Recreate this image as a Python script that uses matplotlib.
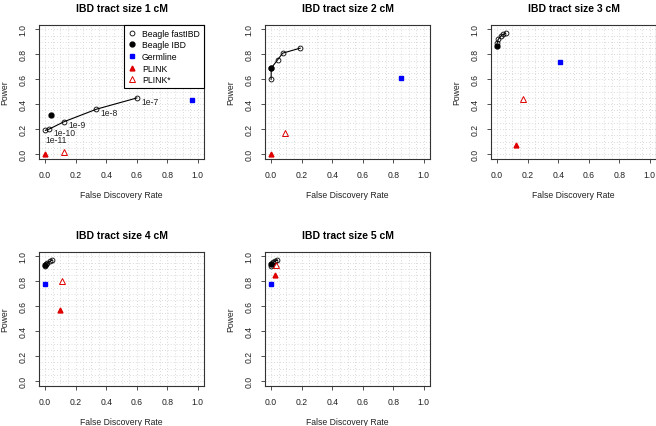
import numpy as np
import matplotlib
matplotlib.use("Agg")
import matplotlib.pyplot as plt
from matplotlib.lines import Line2D

plt.rcParams['font.family'] = ['Liberation Sans', 'DejaVu Sans']

#############################################
# data (one entry per tract size)
tract_sizes = [1, 2, 3, 4, 5]
thresholds = ['1e-11', '1e-10', '1e-9', '1e-8', '1e-7']

fast_fdr = [[0.002, 0.026, 0.125, 0.336, 0.60],
            [0.0, 0.001, 0.043, 0.076, 0.19],
            [0.0, 0.007, 0.024, 0.040, 0.055],
            [0.0, 0.005, 0.015, 0.030, 0.045],
            [0.0, 0.005, 0.015, 0.028, 0.040]]
fast_power = [[0.19, 0.20, 0.26, 0.36, 0.45],
              [0.60, 0.69, 0.757, 0.81, 0.85],
              [0.89, 0.92, 0.947, 0.96, 0.97],
              [0.92, 0.94, 0.95, 0.96, 0.97],
              [0.925, 0.94, 0.955, 0.965, 0.97]]

ibd_fdr = [0.037, 0.0, 0.0, 0.0, 0.0]
ibd_power = [0.31, 0.69, 0.866, 0.935, 0.94]

germ_fdr = [0.96, 0.85, 0.41, 0.0, 0.0]
germ_power = [0.43, 0.61, 0.74, 0.78, 0.78]

plink_fdr = [0.0, 0.0, 0.123, 0.098, 0.024]
plink_power = [0.0, 0.0, 0.075, 0.57, 0.85]

plinks_fdr = [0.126, 0.089, 0.171, 0.109, 0.033]
plinks_power = [0.02, 0.165, 0.442, 0.80, 0.928]

#############################################
W, H = 656, 427
fig = plt.figure(figsize=(W / 100, H / 100), dpi=100)

col_left = [39, 265, 491]
row_top = [25.5, 252.5]
aw, ah = 165, 134.5
frame = '#333333'

for i, cm in enumerate(tract_sizes):
    r, c = divmod(i, 3)
    ax = fig.add_axes([col_left[c] / W, 1 - (row_top[r] + ah) / H, aw / W, ah / H])

    # dotted background grid
    gpos = np.arange(0.05, 1.0, 0.05)
    ax.set_xticks(gpos, minor=True)
    ax.set_yticks(gpos, minor=True)
    ax.grid(which='minor', color='#cfcfcf', ls=(0, (1, 2.5)), lw=0.6)
    ax.grid(which='major', color='#cfcfcf', ls=(0, (1, 2.5)), lw=0.6)
    ax.tick_params(which='minor', length=0)
    ax.set_axisbelow(True)

    ax.plot(fast_fdr[i], fast_power[i], '-', color='black', lw=0.8,
            marker='o', mfc='none', mec='black', ms=3.5, mew=0.6, zorder=3)
    ax.plot(ibd_fdr[i], ibd_power[i], 'o', color='black', ms=3.5, zorder=4)
    ax.plot(germ_fdr[i], germ_power[i], 's', color='blue', ms=3.2, zorder=4)
    ax.plot(plink_fdr[i], plink_power[i], '^', color='#e00000', ms=3.5, zorder=4)
    ax.plot(plinks_fdr[i], plinks_power[i], '^', mfc='none', mec='#e00000',
            ms=4.8, mew=0.7, zorder=4)

    if i == 0:
        for k, lab in enumerate(thresholds):
            off = (0, -6.8) if k == 0 else (3, -2.2)
            ax.annotate(lab, (fast_fdr[i][k], fast_power[i][k]), xytext=off,
                        textcoords='offset points', ha='left', va='center',
                        fontsize=6.2, color='#222222')
        handles = [
            Line2D([], [], ls='none', marker='o', mfc='none', mec='black', ms=3.5, mew=0.6),
            Line2D([], [], ls='none', marker='o', color='black', ms=3.5),
            Line2D([], [], ls='none', marker='s', color='blue', ms=3.2),
            Line2D([], [], ls='none', marker='^', color='#e00000', ms=3.5),
            Line2D([], [], ls='none', marker='^', mfc='none', mec='#e00000', ms=4.8, mew=0.7),
        ]
        names = ['Beagle fastIBD', 'Beagle IBD', 'Germline', 'PLINK', 'PLINK*']
        leg = ax.legend(handles, names, loc='upper right', borderaxespad=0,
                        fontsize=6.2, frameon=True, fancybox=False,
                        handlelength=1.0, handletextpad=0.6, labelspacing=0.3,
                        borderpad=0.5, framealpha=1)
        leg.get_frame().set_edgecolor('black')
        leg.get_frame().set_linewidth(0.8)

    ax.set_xlim(-0.04, 1.04)
    ax.set_ylim(-0.04, 1.04)
    ticks = [0.0, 0.2, 0.4, 0.6, 0.8, 1.0]
    ax.set_xticks(ticks)
    ax.set_yticks(ticks)
    ax.set_xticklabels(['%.1f' % t for t in ticks])
    ax.set_yticklabels(['%.1f' % t for t in ticks], rotation=90, va='center')
    ax.tick_params(which='major', length=3, width=0.6, color=frame,
                   labelsize=6.2, labelcolor='#222222', pad=5)
    for s in ax.spines.values():
        s.set_color(frame)
        s.set_linewidth(0.8)

    ax.set_xlabel('False Discovery Rate', fontsize=6.2, color='#222222', labelpad=8)
    ax.set_ylabel('Power', fontsize=6.2, color='#222222', labelpad=7)
    ax.set_title('IBD tract size %d cM' % cm, fontsize=7.5, fontweight='bold', pad=10)

plt.savefig('out.png', dpi=100)
